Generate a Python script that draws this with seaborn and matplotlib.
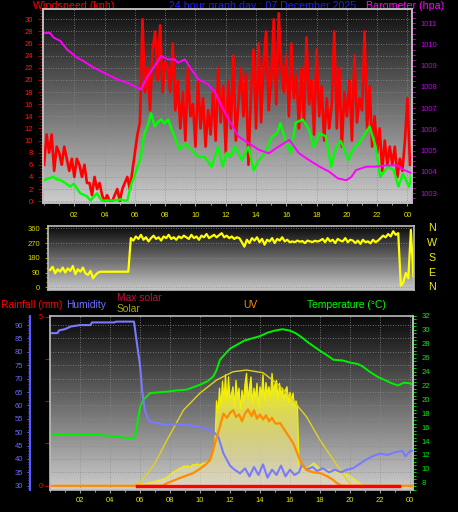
import numpy as np
import matplotlib
matplotlib.use("Agg")
import matplotlib.pyplot as plt
from matplotlib.ticker import MultipleLocator
import seaborn as sns

plt.rcParams['font.family'] = ['Liberation Sans', 'DejaVu Sans']

# ---------------- data ----------------
# wind gusts, one value every 10 minutes from 00:00
gust_kph = [6, 11, 8, 11, 5, 9,
            8, 6, 9, 7, 5, 7,
            4, 7, 6, 4, 6, 3,
            3, 1, 4, 2, 3, 1,
            0, 1, 0, 0, 1, 2,
            0, 2, 3, 4, 2, 5,
            8, 11, 13, 30, 18, 22,
            15, 25, 28, 20, 29, 18,
            23, 22, 18, 26, 15, 20,
            12, 18, 10, 22, 14, 16,
            9, 20, 12, 17, 9, 15,
            11, 18, 10, 22, 13, 19,
            8, 20, 12, 24, 10, 16,
            22, 14, 21, 6, 18, 25,
            12, 26, 13, 23, 28, 15,
            20, 30, 16, 31, 22, 18,
            24, 14, 26, 17, 21, 12,
            22, 13, 27, 16, 20, 11,
            25, 14, 19, 10, 17, 12,
            16, 28, 12, 22, 9, 18,
            14, 20, 10, 24, 13, 17,
            15, 28, 12, 19, 9, 14,
            8, 12, 5, 10, 6, 9,
            6, 9, 4, 7, 5, 10,
            17, 6]

speed_hours = [0.07, 0.35, 0.62, 0.85, 1.07, 1.4, 1.73, 1.96, 2.2, 2.4, 2.84, 3.07,
               3.3, 3.5, 3.8, 4.2, 4.6, 5.07, 5.3, 5.5, 5.73, 5.95, 6.18, 6.4, 6.62,
               6.85, 7.07, 7.3, 7.5, 7.73, 7.95, 8.2, 8.4, 8.62, 8.96, 9.3, 9.73, 10.2,
               10.6, 11.07, 11.5, 11.8, 12.05, 12.3, 12.6, 13.07, 13.5, 13.84, 14.2,
               14.6, 15.07, 15.4, 15.6, 15.96, 16.3, 16.6, 17.07, 17.5, 17.8, 18.2,
               18.6, 18.96, 19.3, 19.6, 20.1, 20.4, 20.9, 21.2, 21.5, 21.9, 22.2, 22.7,
               23.1, 23.4, 23.7, 24.1, 24.3]
speed_kph = [3.5, 3.8, 4.0, 3.6, 3.5, 3.0, 2.4, 2.9, 2.0, 1.3, 0.8, 0.1,
             0.8, 1.3, 0.1, 0.1, 0.1, 0.3, 0.1, 0.1, 2.6, 4.0, 5.7, 7.3, 11.2,
             12.5, 14.5, 12.3, 13.0, 13.5, 12.8, 13.5, 12.0, 10.7, 8.5, 9.5, 8.5, 7.3,
             7.3, 5.7, 9.0, 5.7, 8.0, 7.3, 9.0, 6.8, 9.0, 5.1, 6.8,
             7.9, 10.7, 11.2, 12.9, 9.9, 7.9, 12.9, 13.5, 11.8, 9.0, 11.2,
             10.7, 5.7, 9.0, 9.9, 6.8, 8.5, 9.9, 11.2, 12.3, 9.0, 4.0, 5.7,
             5.1, 2.4, 4.5, 2.4, 4.5]

baro_hours = [0.07, 0.4, 0.62, 1.07, 1.5, 2.18, 2.6, 3.29, 4.18, 4.84, 5.5, 6.18, 6.4,
              6.84, 7.3, 7.73, 8.2, 8.62, 8.84, 9.3, 9.73, 10.2, 10.84, 11.3, 11.73,
              12.2, 12.84, 13.5, 14.2, 14.84, 15.5, 16.2, 16.84, 17.5, 18.2, 18.84,
              19.4, 19.96, 20.3, 20.6, 21.3, 21.9, 22.6, 23.3, 23.8, 24.3]
baro_hpa = [1010.53, 1010.53, 1010.32, 1010.16, 1009.77, 1009.37, 1009.21, 1008.9,
            1008.58, 1008.35, 1008.19, 1007.95, 1007.87, 1008.5, 1008.98, 1009.45,
            1009.29, 1009.29, 1009.13, 1009.29, 1008.82, 1008.35, 1008.11, 1007.72,
            1007.08, 1006.45, 1005.66, 1005.35, 1005.03, 1004.87, 1005.19, 1005.5,
            1004.87, 1004.55, 1004.24, 1004.0, 1003.69, 1003.6, 1003.76, 1004.08,
            1004.24, 1004.24, 1004.3, 1004.3, 1004.08, 1003.92]

# wind direction, every 10 minutes from 00:24
dir_start_hour = 0.4
dir_deg = [105, 125, 85, 110, 95, 120, 90, 115, 100, 130, 80, 110, 95, 120, 85, 75, 100,
           55, 75, 90,
           95, 95, 95, 95, 95, 95, 95, 95, 95, 95, 95, 95,
           300, 285, 310, 295, 320, 290, 305, 280, 300, 315, 295, 305, 285, 310, 300,
           320, 295, 305, 290, 310, 300, 315, 305, 295, 320, 300, 310, 290, 315, 305,
           325, 300, 310, 320, 305,
           318, 330, 305, 315, 300, 310, 295, 305, 300,
           275, 248,
           290, 270, 300, 285, 305, 275, 295, 260, 290, 280, 300, 270, 295, 285, 305,
           280, 290, 275,
           280, 275, 285, 278, 282, 270, 285, 280, 276, 284, 279,
           285, 295, 275, 300, 280, 290, 270, 295, 285, 280, 300, 275, 290, 285,
           270, 285, 265, 290, 275, 280, 268, 290, 275, 285,
           300, 315, 305, 325, 310, 342, 320, 330,
           10, 30, 87, 55, 350, 65]
compass_deg = [360, 270, 180, 90, 0]
compass_letters = ['N', 'W', 'S', 'E', 'N']

hum_hours = [0.1, 0.5, 0.6, 1.0, 1.4, 2.0, 2.7, 2.8, 4.3, 4.4, 5.6, 5.75, 5.9, 6.0,
             6.15, 6.33, 6.5, 6.67, 7.0, 7.78, 8.5, 9.11, 10.0, 10.5, 10.89, 11.22,
             11.4, 11.56, 12.0, 12.3, 12.67, 13.0, 13.3, 13.6, 13.9, 14.2, 14.5, 14.8,
             15.1, 15.4, 15.7, 16.0, 16.3, 16.6, 16.8, 17.1, 17.5, 17.8, 18.2, 18.6,
             19.0, 19.4, 19.8, 20.2, 20.6, 21.0, 21.5, 22.0, 22.5, 23.0, 23.5, 23.7,
             24.0, 24.2]
hum_pct = [87, 87, 88, 88.5, 89.5, 90, 90, 91, 91, 91.3, 91.3, 85, 79, 75,
           65, 58, 55.5, 53.9, 53.5, 52.7, 53.0, 52.7, 52.0, 51.2, 50.2, 48.3,
           45, 42.1, 37.5, 36, 34.6, 36.5, 33.5, 37, 34, 38, 33, 36,
           34, 37.5, 33.5, 36, 34, 35, 38, 36, 37, 35.5, 36.5, 35,
           36, 35, 36, 36.5, 38, 39.5, 41, 42, 41.5, 42.5, 43, 41,
           43, 43]

temp_hours = [0, 1.0, 2.0, 3.0, 3.33, 4.2, 5.1, 5.55, 5.7, 5.85, 6.0, 6.22, 6.67, 7.2,
              7.78, 8.5, 9.11, 10.0, 10.5, 10.89, 11.1, 11.33, 11.7, 12.0, 12.5, 13.0,
              13.5, 14.0, 14.5, 15.0, 15.5, 16.0, 16.4, 16.8, 17.2, 17.6, 18.0, 18.5,
              18.9, 19.5, 20.0, 20.5, 20.8, 21.3, 21.8, 22.3, 22.8, 23.2, 23.6, 24.0, 24.2]
temp_c = [15.0, 15.0, 14.9, 14.9, 14.87, 14.7, 14.44, 14.3, 15.0, 17.0, 18.8, 19.9, 20.9, 21.0,
          21.1, 21.3, 21.4, 22.1, 22.6, 23.3, 24.2, 25.7, 26.6, 27.3, 27.9, 28.5,
          28.8, 29.1, 29.6, 29.9, 30.1, 29.9, 29.5, 28.9, 28.2, 27.6, 27.0, 26.3,
          25.7, 25.6, 25.3, 25.1, 24.8, 24.0, 23.3, 22.8, 22.3, 22.0, 22.4, 22.3, 22.1]

maxsolar_hours = [5.6, 6.0, 6.67, 7.0, 7.8, 8.9, 10.0, 11.1, 12.2, 13.1, 14.2, 15.1,
                  16.0, 17.1, 18.0, 18.9, 19.8, 20.1]
maxsolar_wm2 = [0, 25, 111, 160, 323, 535, 655, 747, 806, 818, 799, 726,
                629, 488, 323, 182, 40, 0]

# solar radiation, every 6 minutes from 05:36
solar_start_hour = 5.6
solar_wm2 = [0, 2, 4, 5, 7, 9, 10, 12, 15, 18,
             20, 22, 25, 28, 30, 33, 36, 40, 43, 46,
             50, 56, 62, 70, 80, 88, 95, 102, 108, 112,
             120, 125, 130, 138, 140, 135, 142, 130, 138, 148,
             150, 145, 155, 150, 145, 152, 160, 158, 165, 170,
             175, 182, 210, 250, 300,
             600, 520, 690, 560, 740, 600, 785, 580, 770,
             610, 650, 700, 560, 745, 620, 690, 540, 675, 590,
             720, 795, 610, 700, 770, 580, 690, 620, 725, 560,
             700, 640, 785, 600, 730, 650, 700, 620, 795, 660,
             720, 745, 610, 725, 640, 690, 600, 680, 700, 590,
             660, 600, 655, 560, 600, 560,
             140, 132, 125, 122, 120, 125, 130, 135, 145, 155,
             160, 150, 140, 128, 120, 118, 116, 115, 115, 113,
             112, 110, 110, 106, 102, 98, 95, 92, 90, 87,
             85, 82, 78, 74, 70, 62, 53, 45, 37, 28,
             20, 13, 7, 3, 0]

uv_hours = [0, 7.5, 7.8, 8.5, 9.1, 9.56, 10.0, 10.3, 10.67, 10.85, 11.0, 11.2, 11.33,
            11.56, 11.8, 12.0, 12.22, 12.4, 12.6, 12.8, 13.0, 13.2, 13.44, 13.6, 13.8,
            14.0, 14.2, 14.4, 14.6, 14.8, 15.0, 15.11, 15.33, 15.55, 15.78, 16.0, 16.22,
            16.45, 16.67, 16.9, 17.11, 17.5, 18.0, 18.5, 18.89, 19.1, 19.33, 19.5, 24.2]
uv_index = [0, 0, 0.3, 0.8, 1.2, 1.5, 2.0, 2.4, 3.0, 4.0, 5.0, 6.2, 7.0,
            8.5, 8.0, 8.6, 8.9, 8.1, 8.4, 7.6, 8.5, 9.0, 8.2, 8.9, 7.9,
            8.4, 7.8, 8.3, 7.6, 8.0, 7.4, 7.3, 7.4, 6.8, 6.2, 5.6, 5.0,
            4.0, 3.0, 2.3, 1.85, 1.6, 1.5, 1.1, 0.67, 0.35, 0.1, 0, 0]

rain_hours = [5.8, 23.3]
rain_mm = [0, 0]

hour_ticks = [2, 4, 6, 8, 10, 12, 14, 16, 18, 20, 22, 24]
hour_labels = ['02', '04', '06', '08', '10', '12', '14', '16', '18', '20', '22', '00']

W, H = 458, 512
FRAME = '#bdbdbd'
GRID = dict(color='#8c8c8c', linestyle=(0, (1, 2)), linewidth=0.6)


def gradient_bg(ax, top=0.05, bottom=0.80):
    shade = np.linspace(top, bottom, 256).reshape(-1, 1)
    ax.imshow(shade, extent=[0, 1, 0, 1], transform=ax.transAxes, cmap='gray',
              vmin=0, vmax=1, aspect='auto', interpolation='bilinear', zorder=-10)


def frame(ax, color=FRAME):
    for s in ax.spines.values():
        s.set_color(color)
        s.set_linewidth(1.2)


def hide(ax):
    ax.set_yticks([])
    for s in ax.spines.values():
        s.set_visible(False)


def px_axes(x0, y0, x1, y1):
    return fig.add_axes([x0 / W, 1 - y1 / H, (x1 - x0) / W, (y1 - y0) / H])


def fig_label(x, y, s, color, size=7.7):
    fig.text(x / W, 1 - y / H, s, color=color, fontsize=size, va='baseline',
             ha='left', zorder=-1)


fig = plt.figure(figsize=(W / 100, H / 100), dpi=100, facecolor='black')

# ---------------- top: wind speed / gust / barometer ----------------
ax1 = px_axes(43, 9, 412, 203)
ax1.set_facecolor('black')
gradient_bg(ax1, 0.06, 0.80)
gust_hours = np.arange(len(gust_kph)) / 6
sns.lineplot(x=gust_hours, y=gust_kph, ax=ax1, color='#ff0000', linewidth=1.9)
sns.lineplot(x=speed_hours, y=speed_kph, ax=ax1, color='#00ff00', linewidth=1.7)
ax1b = ax1.twinx()
sns.lineplot(x=baro_hours, y=baro_hpa, ax=ax1b, color='#ff00ff', linewidth=1.4)

ax1.set_xlim(-0.07, 24.3)
ax1.set_ylim(-0.3, 31.7)
ax1b.set_ylim(1002.53, 1011.66)
ax1.set_xticks(hour_ticks, hour_labels)
ax1.xaxis.set_minor_locator(MultipleLocator(1))
ax1.tick_params(axis='x', which='both', color='#9a9a9a', labelcolor='#e6e600',
                labelsize=5.5, length=2.5, pad=4, width=0.8)
ax1.tick_params(axis='x', which='minor', length=1.5)
ax1.set_yticks(range(0, 31, 2))
ax1.yaxis.set_minor_locator(MultipleLocator(0.5))
ax1.tick_params(axis='y', which='both', color='#b00000', labelcolor='#ff1a1a',
                labelsize=5.5, length=3.5, pad=3.5, width=0.8)
ax1.tick_params(axis='y', which='minor', length=2.5)
ax1b.set_yticks(range(1003, 1012))
ax1b.yaxis.set_minor_locator(MultipleLocator(0.25))
ax1b.tick_params(axis='y', which='both', color='#c000c0', labelcolor='#cc00ee',
                 labelsize=5.5, length=2.5, pad=3.8, width=0.8)
ax1b.tick_params(axis='y', which='minor', length=2)
ax1.grid(True, which='major', **GRID)
ax1b.grid(False)
for a in (ax1, ax1b):
    a.set_xlabel('')
    a.set_ylabel('')
    frame(a)

fig_label(33, 9.3, 'Windspeed (kph)', '#ff0000')
fig_label(169, 9.3, '24 hour graph day : 07 December 2025', '#1e1eff')
fig_label(366, 9.3, 'Barometer (hpa)', '#ff00ff')

# ---------------- middle: wind direction ----------------
ax2 = px_axes(48, 226, 414, 290)
ax2.set_facecolor('black')
gradient_bg(ax2, 0.04, 0.78)
dir_hours = dir_start_hour + np.arange(len(dir_deg)) / 6
sns.lineplot(x=dir_hours, y=dir_deg, ax=ax2, color='#ffff00', linewidth=1.6)
ax2.set_xlim(0.26, 24.44)
ax2.set_ylim(-16.5, 374)
ax2.set_xticks([])
ax2.set_yticks([0, 90, 180, 270, 360])
ax2.yaxis.set_minor_locator(MultipleLocator(30))
ax2.tick_params(axis='y', which='both', color='#a0a000', labelcolor='#d8d800',
                labelsize=5.5, length=2.5, pad=3.3, width=0.8)
ax2.tick_params(axis='y', which='minor', length=1.8)
ax2.grid(True, axis='y', which='major', **GRID)
ax2.set_xlabel('')
ax2.set_ylabel('')
frame(ax2)
for deg, letter in zip(compass_deg, compass_letters):
    ax2.text(1.049, deg, letter, transform=ax2.get_yaxis_transform(),
             color='#f0f000', fontsize=7.7, ha='center', va='center')

# ---------------- bottom: rain / humidity / solar / UV / temperature ----------------
ax3 = px_axes(50, 316, 413, 490)
ax3.set_facecolor('black')
gradient_bg(ax3, 0.04, 0.80)

axS = ax3.twinx()
solar_hours = solar_start_hour + np.arange(len(solar_wm2)) / 10
poly = axS.fill_between(solar_hours, 0, solar_wm2, facecolor='none', edgecolor='none')
fade = np.zeros((256, 1, 4))
fade[..., 0] = 1.0
fade[..., 1] = np.linspace(1.0, 0.95, 256)[:, None]
fade[..., 2] = np.linspace(0.0, 0.75, 256)[:, None]
fade[..., 3] = np.linspace(1.0, 0.35, 256)[:, None]
img = axS.imshow(fade, extent=[5.5, 21.1, 0, 830], aspect='auto', origin='upper',
                 interpolation='bilinear', zorder=1)
img.set_clip_path(poly.get_paths()[0], transform=axS.transData)
sns.lineplot(x=solar_hours, y=solar_wm2, ax=axS, color='#f4f000', linewidth=0.9)
sns.lineplot(x=maxsolar_hours, y=maxsolar_wm2, ax=axS, color='#e2d21c', linewidth=1.0)

axT = ax3.twinx()
sns.lineplot(x=temp_hours, y=temp_c, ax=axT, color='#00f000', linewidth=1.4)

axH = ax3.twinx()
sns.lineplot(x=hum_hours, y=hum_pct, ax=axH, color='#7a7aff', linewidth=1.5)

axU = ax3.twinx()
sns.lineplot(x=uv_hours, y=uv_index, ax=axU, color='#ff8c00', linewidth=1.6)

axR = ax3.twinx()
sns.lineplot(x=rain_hours, y=rain_mm, ax=axR, color='#ff0000', linewidth=2.4)

ax3.set_xlim(0, 24.2)
ax3.set_ylim(28.4, 93.4)
axS.set_ylim(-30, 1200)
axT.set_ylim(6.95, 32.0)
axH.set_ylim(28.4, 93.4)
axU.set_ylim(-0.5, 20)
axR.set_ylim(-0.127, 5.02)

ax3.set_xticks(hour_ticks, hour_labels)
ax3.xaxis.set_minor_locator(MultipleLocator(1))
ax3.tick_params(axis='x', which='both', color='#9a9a9a', labelcolor='#e6e600',
                labelsize=5.5, length=2, pad=3, width=0.8)
ax3.tick_params(axis='x', which='minor', length=1.3)
ax3.set_yticks(range(30, 91, 5))
ax3.yaxis.set_minor_locator(MultipleLocator(1))
ax3.tick_params(axis='y', which='both', color='#5a5aff', labelcolor='#6a6aff',
                labelsize=5.5, length=2.5, pad=2.5, width=0.8)
ax3.tick_params(axis='y', which='minor', length=1.6)
ax3.grid(True, which='major', **GRID)
frame(ax3)
ax3.spines['left'].set_position(('outward', 14.4))
ax3.spines['left'].set_color('#5a5aff')
ax3.spines['left'].set_linewidth(1.5)

axT.set_yticks(range(8, 33, 2))
axT.yaxis.set_minor_locator(MultipleLocator(0.5))
axT.tick_params(axis='y', which='both', color='#00d000', labelcolor='#00ee00',
                labelsize=5.5, length=2.5, pad=3.8, width=0.8)
axT.tick_params(axis='y', which='minor', length=1.8)
for name, s in axT.spines.items():
    s.set_visible(name == 'right')
    s.set_color(FRAME)
    s.set_linewidth(1.2)

axR.yaxis.tick_left()
axR.set_yticks([0, 5])
axR.yaxis.set_minor_locator(MultipleLocator(1.25))
axR.tick_params(axis='y', which='both', color='#c00000', labelcolor='#ff0000',
                labelsize=5.5, length=3.5, pad=1.3, width=0.8)
for name, s in axR.spines.items():
    s.set_visible(name == 'left')
    s.set_color(FRAME)
    s.set_linewidth(1.2)

for a in (axS, axH, axU):
    hide(a)
for a in (ax3, axS, axT, axH, axU, axR):
    a.set_xlabel('')
    a.set_ylabel('')
    if a is not ax3:
        a.grid(False)

fig_label(1, 307.7, 'Rainfall (mm)', '#ff0000', 7.4)
fig_label(66, 307.7, 'Humidity', '#7070ff', 7.4)
fig_label(117, 300.7, 'Max solar', '#c0103c', 7.4)
fig_label(117, 311.7, 'Solar', '#a8a800', 7.4)
fig_label(243, 307.7, 'UV', '#ff8c00', 7.4)
fig_label(307, 307.7, 'Temperature (°C)', '#00ff00', 7.4)

fig.savefig('out.png', dpi=100, facecolor='black')
